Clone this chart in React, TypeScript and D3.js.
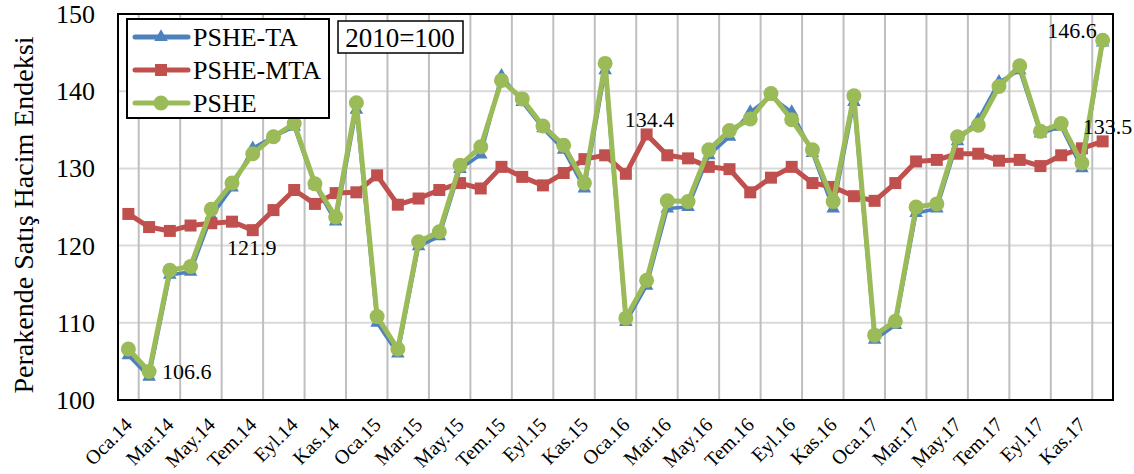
import { useEffect, useRef } from 'react';
import * as d3 from 'd3';

const monthNames = ['Oca', 'Şub', 'Mar', 'Nis', 'May', 'Haz', 'Tem', 'Ağu', 'Eyl', 'Eki', 'Kas', 'Ara'];
const years = ['14', '15', '16', '17'];
const months: string[] = [];
years.forEach(y => monthNames.forEach(m => months.push(`${m}.${y}`)));

// PSHE-TA (takvim etkisinden arındırılmış)
const psheTA = [
  105.8, 103.0, 116.2, 116.6, 123.8, 127.5, 132.6, 134.1, 135.4, 127.8, 123.1, 137.6,
  110.0, 106.0, 119.9, 121.2, 129.9, 131.8, 142.0, 138.6, 135.2, 132.4, 127.4, 142.7,
  110.1, 114.8, 124.8, 125.0, 131.7, 134.1, 137.3, 139.3, 137.3, 132.0, 124.8, 138.6,
  107.8, 109.7, 124.2, 124.8, 133.5, 136.3, 141.2, 142.7, 134.5, 135.4, 130.0, 146.3,
];

// PSHE-MTA (mevsim ve takvim etkisinden arındırılmış)
const psheMTA = [
  124.1, 122.4, 121.9, 122.6, 122.9, 123.1, 122.0, 124.6, 127.2, 125.4, 126.8, 126.9,
  129.1, 125.3, 126.1, 127.2, 128.1, 127.4, 130.2, 128.9, 127.8, 129.4, 131.2, 131.7,
  129.3, 134.4, 131.7, 131.3, 130.2, 129.9, 126.9, 128.8, 130.2, 128.1, 127.6, 126.4,
  125.8, 128.1, 130.9, 131.1, 131.9, 131.9, 131.0, 131.1, 130.3, 131.7, 132.6, 133.5,
];

// PSHE (ham endeks)
const pshe = [
  106.6, 103.7, 116.8, 117.3, 124.7, 128.1, 131.9, 134.1, 135.8, 128.0, 123.7, 138.5,
  110.8, 106.6, 120.5, 121.8, 130.4, 132.8, 141.4, 139.0, 135.5, 133.0, 128.1, 143.6,
  110.6, 115.5, 125.8, 125.7, 132.4, 134.9, 136.4, 139.7, 136.3, 132.4, 125.7, 139.4,
  108.4, 110.2, 125.0, 125.4, 134.1, 135.6, 140.6, 143.3, 134.8, 135.8, 130.7, 146.6,
];

const yTicks = [100, 110, 120, 130, 140, 150];

const annotations = [
  { series: 'pshe', i: 1, text: '106.6', dx: 13, dy: 8, anchor: 'start' },
  { series: 'mta', i: 6, text: '121.9', dx: -1, dy: 25, anchor: 'middle' },
  { series: 'mta', i: 25, text: '134.4', dx: 3, dy: -7, anchor: 'middle' },
  { series: 'pshe', i: 47, text: '146.6', dx: -6, dy: -2, anchor: 'end' },
  { series: 'mta', i: 47, text: '133.5', dx: -20, dy: -7, anchor: 'start' },
];

const font = 'Liberation Serif';

export default function App() {
  const chartRef = useRef<SVGSVGElement>(null);

  useEffect(() => {
    document.body.style.margin = '0';
    const svg = d3.select(chartRef.current);
    svg.selectAll('*').remove();

    const left = 118, right = 1113, top = 14, bottom = 400;

    const x = d3.scaleBand<string>().domain(months).range([left, right]);
    const cx = (i: number) => (x(months[i]) as number) + x.bandwidth() / 2;
    const y = d3.scaleLinear().domain([100, 150]).range([bottom, top]);

    svg.append('rect')
      .attr('width', 1134).attr('height', 474).attr('fill', '#fff');

    // horizontal gridlines
    svg.append('g')
      .selectAll('line')
      .data(yTicks)
      .enter().append('line')
      .attr('x1', left).attr('x2', right)
      .attr('y1', d => y(d)).attr('y2', d => y(d))
      .attr('stroke', '#d9d9d9').attr('stroke-width', 2);

    // vertical gridlines every 2 months
    svg.append('g')
      .selectAll('line')
      .data(months.filter((_, i) => i % 2 === 1))
      .enter().append('line')
      .attr('x1', d => x(d) as number).attr('x2', d => x(d) as number)
      .attr('y1', top).attr('y2', bottom)
      .attr('stroke', '#bfbfbf').attr('stroke-width', 2);

    // frame
    svg.append('rect')
      .attr('x', left).attr('y', top)
      .attr('width', right - left).attr('height', bottom - top)
      .attr('fill', 'none').attr('stroke', '#000').attr('stroke-width', 2);

    // y tick labels
    svg.append('g')
      .selectAll('text')
      .data(yTicks)
      .enter().append('text')
      .attr('x', 95).attr('y', d => y(d) + 9)
      .attr('text-anchor', 'end')
      .attr('font-family', font).attr('font-size', 26)
      .text(d => d);

    // y title
    svg.append('g')
      .attr('transform', `translate(33,${(top + bottom) / 2 + 8})`)
      .append('text')
      .attr('transform', 'rotate(-90)')
      .attr('text-anchor', 'middle')
      .attr('font-family', font).attr('font-size', 28)
      .text('Perakende Satış Hacim Endeksi');

    // x labels
    const xl = svg.append('g')
      .selectAll('g')
      .data(months.map((m, i) => ({ m, i })).filter(d => d.i % 2 === 0))
      .enter().append('g')
      .attr('transform', d => `translate(${cx(d.i) + 5},426) rotate(-45)`);
    xl.append('text')
      .attr('text-anchor', 'end')
      .attr('font-family', font).attr('font-size', 20)
      .text(d => d.m);

    const line = d3.line<number>().x((_, i) => cx(i)).y(d => y(d));

    // PSHE-TA
    svg.append('path').datum(psheTA)
      .attr('d', line).attr('fill', 'none')
      .attr('stroke', '#4F81BD').attr('stroke-width', 3.5).attr('stroke-linejoin', 'round');
    const tri = d3.symbol().type(d3.symbolTriangle).size(80);
    svg.append('g').selectAll('path')
      .data(psheTA)
      .enter().append('path')
      .attr('d', tri)
      .attr('transform', (d, i) => `translate(${cx(i)},${y(d)})`)
      .attr('fill', '#4F81BD');

    // PSHE-MTA
    svg.append('path').datum(psheMTA)
      .attr('d', line).attr('fill', 'none')
      .attr('stroke', '#C0504D').attr('stroke-width', 5).attr('stroke-linejoin', 'round');
    svg.append('g').selectAll('rect')
      .data(psheMTA)
      .enter().append('rect')
      .attr('x', (_, i) => cx(i) - 6).attr('y', d => y(d) - 6)
      .attr('width', 12).attr('height', 12)
      .attr('fill', '#C0504D');

    // PSHE
    svg.append('path').datum(pshe)
      .attr('d', line).attr('fill', 'none')
      .attr('stroke', '#9BBB59').attr('stroke-width', 5).attr('stroke-linejoin', 'round');
    svg.append('g').selectAll('circle')
      .data(pshe)
      .enter().append('circle')
      .attr('cx', (_, i) => cx(i)).attr('cy', d => y(d))
      .attr('r', 7.5)
      .attr('fill', '#9BBB59');

    // data labels
    const seriesMap: Record<string, number[]> = { pshe, mta: psheMTA, ta: psheTA };
    svg.append('g').selectAll('text')
      .data(annotations)
      .enter().append('text')
      .attr('x', d => cx(d.i) + d.dx)
      .attr('y', d => y(seriesMap[d.series][d.i]) + d.dy)
      .attr('text-anchor', d => d.anchor)
      .attr('font-family', font).attr('font-size', 22)
      .text(d => d.text);

    // legend
    const lg = svg.append('g');
    lg.append('rect')
      .attr('x', 127).attr('y', 19).attr('width', 202).attr('height', 99)
      .attr('fill', '#fff').attr('stroke', '#000').attr('stroke-width', 2);
    const items = [
      { name: 'PSHE-TA', color: '#4F81BD', shape: 'tri' },
      { name: 'PSHE-MTA', color: '#C0504D', shape: 'sq' },
      { name: 'PSHE', color: '#9BBB59', shape: 'circle' },
    ];
    items.forEach((it, k) => {
      const ly = 37 + k * 33;
      lg.append('line')
        .attr('x1', 135).attr('x2', 188).attr('y1', ly).attr('y2', ly)
        .attr('stroke', it.color).attr('stroke-width', 5).attr('stroke-linecap', 'round');
      if (it.shape === 'tri') {
        lg.append('path').attr('d', tri).attr('transform', `translate(161,${ly})`).attr('fill', it.color);
      } else if (it.shape === 'sq') {
        lg.append('rect').attr('x', 155).attr('y', ly - 6).attr('width', 12).attr('height', 12).attr('fill', it.color);
      } else {
        lg.append('circle').attr('cx', 161).attr('cy', ly).attr('r', 7.5).attr('fill', it.color);
      }
      lg.append('text')
        .attr('x', 193).attr('y', ly + 9)
        .attr('font-family', font).attr('font-size', 26)
        .text(it.name);
    });

    // base note
    svg.append('rect')
      .attr('x', 338).attr('y', 21).attr('width', 125).attr('height', 32)
      .attr('fill', '#fff').attr('stroke', '#000').attr('stroke-width', 1.5);
    svg.append('text')
      .attr('x', 400).attr('y', 47)
      .attr('text-anchor', 'middle')
      .attr('font-family', font).attr('font-size', 27)
      .text('2010=100');
  }, []);

  return <svg ref={chartRef} width="1134" height="474" style={{ display: 'block' }}></svg>;
}
